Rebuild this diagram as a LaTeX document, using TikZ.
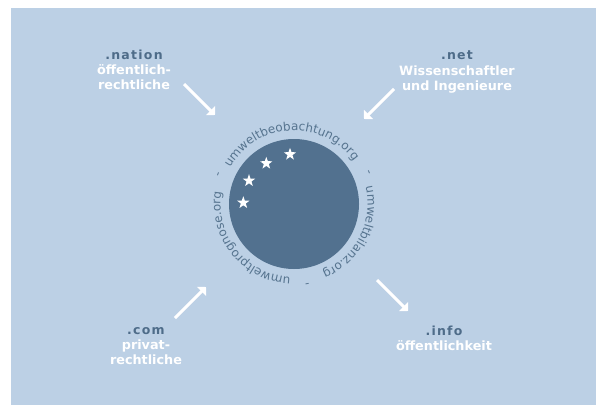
\documentclass[tikz,border=0pt]{standalone}
\usepackage{fontspec}
\setmainfont{DejaVu Sans}
\newfontfamily\darkfont[LetterSpace=10]{DejaVu Sans}
\newfontfamily\ringfont{DejaVu Sans}
\usetikzlibrary{decorations.text,arrows.meta,shapes.geometric,calc}
\definecolor{bgc}{HTML}{BCD0E5}
\definecolor{discc}{HTML}{52718F}
\definecolor{ringc}{HTML}{56748F}
\definecolor{labc}{HTML}{4E6C89}
\tikzset{
  darklab/.style={font=\darkfont\bfseries\fontsize{12.5}{15}\selectfont, text=labc, anchor=base, inner sep=0pt},
  wlab/.style={font=\bfseries\fontsize{12.8}{15}\selectfont, text=white, anchor=base, inner sep=0pt},
  star5/.style={star, star points=5, star point ratio=2.5, minimum size=13pt, inner sep=0pt, fill=white, draw=none},
  arr/.style={draw=white, line width=3pt, -{Triangle[angle=90:9pt]}},
  ringtext/.style={decorate, decoration={text along path, text={|\ringfont\fontsize{12}{14}\selectfont|#1}, text align=center, text color=ringc}},
  dashlab/.style={font=\ringfont\fontsize{12}{14}\selectfont, text=ringc, inner sep=0pt}
}
\begin{document}
\begin{tikzpicture}[x=1pt,y=1pt]
\useasboundingbox (0,0) rectangle (596,405);
\fill[bgc] (11,0) rectangle (596,397);
% disc
\node[circle, fill=discc, minimum size=130pt, inner sep=0pt] (disc) at (294,201) {};
\node[star5] (s1) at (290,250.7) {};
\node[star5] (s2) at (266.3,241.7) {};
\node[star5] (s3) at (249,224.3) {};
\node[star5] (s4) at (243.3,202.3) {};
% ring text
\path[ringtext={umweltbeobachtung.org}] ($(disc.center)+(183:73.5)$) arc[start angle=183, end angle=3, radius=73.5];
\path[ringtext={umweltbilanz.org}] ($(disc.center)+(63:73.5)$) arc[start angle=63, end angle=-117, radius=73.5];
\path[ringtext={umweltprognose.org}] ($(disc.center)+(-51:73.5)$) arc[start angle=-51, end angle=-231, radius=73.5];
\node[dashlab, rotate=68.6] (d1) at ($(disc.center)+(158.6:80)$) {-};
\node[dashlab, rotate=-67.3] (d2) at ($(disc.center)+(22.7:80)$) {-};
\node[dashlab, rotate=-170.6] (d3) at ($(disc.center)+(-80.6:80)$) {-};
% labels
\node[darklab] (nation) at (134,345.5) {.nation};
\node[wlab] (nation1) at (134,330) {öffentlich-};
\node[wlab] (nation2) at (134,315) {rechtliche};
\node[darklab] (net) at (457,345.5) {.net};
\node[wlab] (net1) at (457,329.5) {Wissenschaftler};
\node[wlab] (net2) at (457,314.5) {und Ingenieure};
\node[darklab] (com) at (146,71) {.com};
\node[wlab] (com1) at (146,56) {privat-};
\node[wlab] (com2) at (146,41) {rechtliche};
\node[darklab] (info) at (444,70) {.info};
\node[wlab] (info1) at (444,54.5) {öffentlichkeit};
% arrows
\coordinate (a1s) at (184,321); \coordinate (a1e) at (215,290);
\coordinate (a2s) at (394,316); \coordinate (a2e) at (364,286);
\coordinate (a3s) at (175,87);  \coordinate (a3e) at (206,118);
\coordinate (a4s) at (377,125); \coordinate (a4e) at (408,94);
\draw[arr] (a1s) -- (a1e);
\draw[arr] (a2s) -- (a2e);
\draw[arr] (a3s) -- (a3e);
\draw[arr] (a4s) -- (a4e);
\end{tikzpicture}
\end{document}
